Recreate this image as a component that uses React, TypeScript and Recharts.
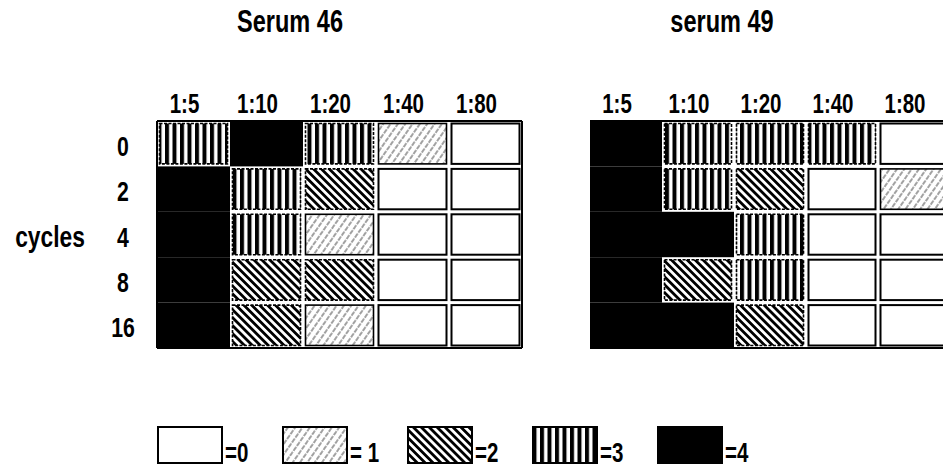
import React from 'react';
import { Bar, BarChart, XAxis, YAxis } from 'recharts';

const dilutions = ['1:5', '1:10', '1:20', '1:40', '1:80'];
const cycles = ['0', '2', '4', '8', '16'];

// scores, one row per cycle count, columns follow dilutions
const serum46 = [
  [3, 4, 3, 1, 0],
  [4, 3, 2, 0, 0],
  [4, 3, 1, 0, 0],
  [4, 2, 2, 0, 0],
  [4, 2, 1, 0, 0],
];
const serum49 = [
  [4, 3, 3, 3, 0],
  [4, 3, 2, 0, 1],
  [4, 4, 3, 0, 0],
  [4, 2, 3, 0, 0],
  [4, 4, 2, 0, 0],
];

const legendScores = [0, 1, 2, 3, 4];
const legendLabels = ['=0', '= 1', '=2', '=3', '=4'];

const FONT = "'Liberation Sans', Arial, sans-serif";
const fills = ['#fff', 'url(#hatch1)', 'url(#hatch2)', 'url(#hatch3)', '#000'];

function buildRows(scores: number[][]) {
  return dilutions.map((d, j) => {
    const row: any = { dilution: d, scores: scores.map((r) => r[j]) };
    cycles.forEach((c) => {
      row[`c${c}`] = 1;
    });
    return row;
  });
}

// condensed bold text, the figure uses a narrow face
function NarrowText({ x, y, size = 27, anchor = 'start', children }: any) {
  return (
    <text
      transform={`translate(${x} ${y}) scale(0.76 1)`}
      textAnchor={anchor}
      fontFamily={FONT}
      fontWeight={700}
      fontSize={size}
      fill="#000"
    >
      {children}
    </text>
  );
}

function GridCell(props: any) {
  let { x, y, width, height } = props;
  const { score } = props;
  if (height < 0) {
    y += height;
    height = -height;
  }
  if (width < 0) {
    x += width;
    width = -width;
  }
  if (score === 4) {
    return <rect x={x} y={y} width={width} height={height} fill="#000" />;
  }
  const inset = 2.5;
  return (
    <rect
      x={x + inset}
      y={y + inset}
      width={width - inset * 2}
      height={height - inset * 2}
      fill={fills[score]}
      stroke="#000"
      strokeWidth={score === 0 ? 2 : 1.6}
      strokeDasharray={score >= 2 ? '3 1.5' : undefined}
    />
  );
}

function Panel({ scores, showRows, width, margin }: any) {
  const data = buildRows(scores);
  return (
    <BarChart width={width} height={370} data={data} margin={margin} barCategoryGap={0}>
      <XAxis
        dataKey="dilution"
        orientation="top"
        height={30}
        axisLine={{ stroke: '#000', strokeWidth: 2 }}
        tickLine={false}
        interval={0}
        tick={(p: any) => (
          <NarrowText x={p.x - 9} y={p.y} anchor="middle">
            {p.payload.value}
          </NarrowText>
        )}
      />
      <XAxis
        xAxisId="b"
        dataKey="dilution"
        orientation="bottom"
        height={2}
        tick={false}
        tickLine={false}
        axisLine={{ stroke: '#000', strokeWidth: 2 }}
      />
      <YAxis
        type="number"
        domain={[0, 5]}
        reversed
        hide={!showRows}
        width={40}
        ticks={[0.5, 1.5, 2.5, 3.5, 4.5]}
        interval={0}
        axisLine={{ stroke: '#000', strokeWidth: 2 }}
        tickLine={false}
        tick={(p: any) => (
          <NarrowText x={p.x - 26} y={p.y + 12} size={28} anchor="middle">
            {cycles[Math.floor(p.payload.value)]}
          </NarrowText>
        )}
      />
      <YAxis
        yAxisId="r"
        type="number"
        domain={[0, 5]}
        orientation="right"
        width={2}
        tick={false}
        tickLine={false}
        axisLine={{ stroke: '#000', strokeWidth: 2 }}
      />
      {cycles.map((c, i) => (
        <Bar
          key={c}
          dataKey={`c${c}`}
          stackId="grid"
          isAnimationActive={false}
          shape={(props: any) => <GridCell {...props} score={props.payload.scores[i]} />}
        />
      ))}
    </BarChart>
  );
}

export default function App() {
  return (
    <div
      style={{
        position: 'fixed',
        left: 0,
        top: 0,
        width: 943,
        height: 470,
        overflow: 'hidden',
        background: '#fff',
      }}
    >
      <svg width={943} height={470} style={{ position: 'absolute', left: 0, top: 0 }}>
        <defs>
          <pattern id="hatch1" width="6" height="6" patternUnits="userSpaceOnUse" patternTransform="rotate(35)">
            <rect width="6" height="6" fill="#fff" />
            <line x1="1" y1="0" x2="1" y2="6" stroke="#444" strokeWidth="1" strokeDasharray="3 1.2" />
          </pattern>
          <pattern id="hatch2" width="5.6" height="5.6" patternUnits="userSpaceOnUse" patternTransform="rotate(-45)">
            <rect width="5.6" height="5.6" fill="#fff" />
            <rect x="0" y="0" width="2.8" height="5.6" fill="#000" />
          </pattern>
          <pattern id="hatch3" width="7.5" height="8" patternUnits="userSpaceOnUse">
            <rect width="7.5" height="8" fill="#fff" />
            <rect x="0" y="0" width="4" height="8" fill="#000" />
          </pattern>
        </defs>
        <NarrowText x={290} y={32} size={31} anchor="middle">
          Serum 46
        </NarrowText>
        <NarrowText x={722} y={32} size={31} anchor="middle">
          serum 49
        </NarrowText>
        <NarrowText x={50} y={247} size={30} anchor="middle">
          cycles
        </NarrowText>
        {legendScores.map((s, i) => (
          <g key={s}>
            <rect x={158 + i * 125} y={427} width={64} height={36} fill={fills[s]} stroke="#000" strokeWidth={2} />
            <NarrowText x={158 + i * 125 + 67} y={462}>
              {legendLabels[i]}
            </NarrowText>
          </g>
        ))}
      </svg>
      <div style={{ position: 'absolute', left: 0, top: 0 }}>
        <Panel
          scores={serum46}
          showRows
          width={540}
          margin={{ top: 91, right: 16, bottom: 20, left: 117 }}
        />
      </div>
      <div style={{ position: 'absolute', left: 560, top: 0 }}>
        <Panel
          scores={serum49}
          showRows={false}
          width={420}
          margin={{ top: 91, right: 28, bottom: 20, left: 30 }}
        />
      </div>
    </div>
  );
}
